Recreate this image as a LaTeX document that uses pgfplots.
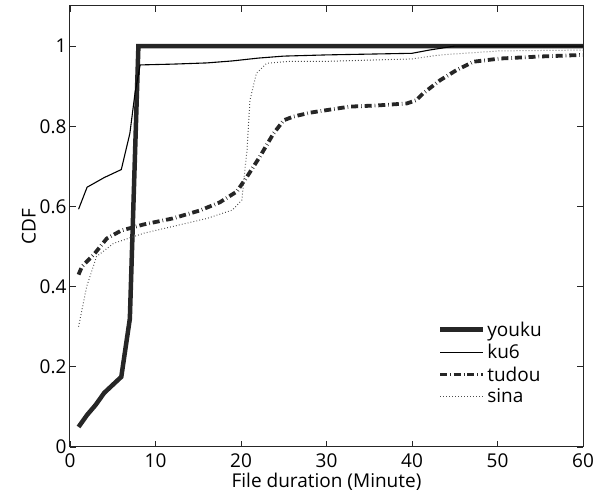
\documentclass[border=0pt]{standalone}
\usepackage{fontspec}
\setmainfont{Open Sans}
\usepackage{pgfplots}
\pgfplotsset{compat=1.18}
\newcommand{\bigf}{\fontsize{19}{22}\selectfont}
\begin{document}
\begin{tikzpicture}
\begin{axis}[
  scale only axis, width=513pt, height=441pt,
  xmin=0, xmax=60, ymin=0, ymax=1.1,
  xtick={0,10,...,60}, ytick={0,0.2,0.4,0.6,0.8,1},
  yticklabels={0,0.2,0.4,0.6,0.8,1},
  tick align=inside, major tick length=6pt,
  axis line style={line width=1pt, black!85},
  every tick/.style={line width=0.9pt, black!85},
  tick label style={font=\bigf},
  xticklabel style={yshift=-3pt},
  label style={font=\bigf},
  /pgf/number format/assume math mode=true,
  xlabel={File duration (Minute)}, ylabel={CDF},
  xlabel style={yshift=1pt}, ylabel style={yshift=-3pt},
  legend style={at={(axis cs:43,0.318)}, anchor=north west, draw=none, fill=none,
    row sep=2.5pt, font=\bigf, inner sep=0pt},
  legend cell align=left,
  legend image code/.code={\draw[#1] (0pt,0pt) -- (43pt,0pt);},
]
\addplot[line width=4.5pt, black!85] coordinates {
 (1,0.05) (2,0.08) (3,0.105) (4,0.135) (5,0.155) (6,0.175) (7,0.32) (8,1.0) (60,1.0)};
\addlegendentry{youku}
\addplot[line width=1.1pt, black] coordinates {
 (1,0.593) (2,0.648) (3,0.66) (4,0.672) (6,0.692) (7,0.782) (7.6,0.882) (8.2,0.953)
 (12,0.955) (16,0.958) (19,0.963) (22,0.97) (25,0.975) (30,0.978) (40,0.982) (42,0.99) (45,1.0) (60,1.0)};
\addlegendentry{ku6}
\addplot[line width=3.8pt, black!85, dash pattern=on 7pt off 3pt on 0.6pt off 3pt] coordinates {
 (1,0.43) (1.4,0.45) (2.9,0.483) (4.3,0.52) (6,0.54) (8.6,0.555) (12,0.57) (15.2,0.59) (17.5,0.61) (19.5,0.637)
 (20.7,0.674) (22.2,0.724) (23.8,0.782) (25,0.815) (26.1,0.824) (28.1,0.834) (32.7,0.849) (36,0.852) (39.4,0.857)
 (40.5,0.865) (41.3,0.882) (43.3,0.915) (45.2,0.94) (47.2,0.961) (50.3,0.969) (55,0.974) (60,0.978)};
\addlegendentry{tudou}
\addplot[line width=1pt, black!70, dash pattern=on 0.8pt off 2.2pt] coordinates {
 (1,0.30) (1.95,0.40) (3.1,0.475) (5.1,0.508) (8.6,0.533) (12,0.55) (16,0.57) (19,0.591) (20.1,0.616)
 (20.4,0.68) (20.7,0.74) (21.05,0.865) (21.8,0.932) (23,0.957) (25.7,0.962) (30,0.962) (40,0.968) (43.3,0.978)
 (50.3,0.988) (60,0.99)};
\addlegendentry{sina}
\end{axis}
\path ([shift={(-70pt,-50pt)}]current axis.south west) rectangle ([shift={(19pt,6pt)}]current axis.north east);
\end{tikzpicture}
\end{document}
